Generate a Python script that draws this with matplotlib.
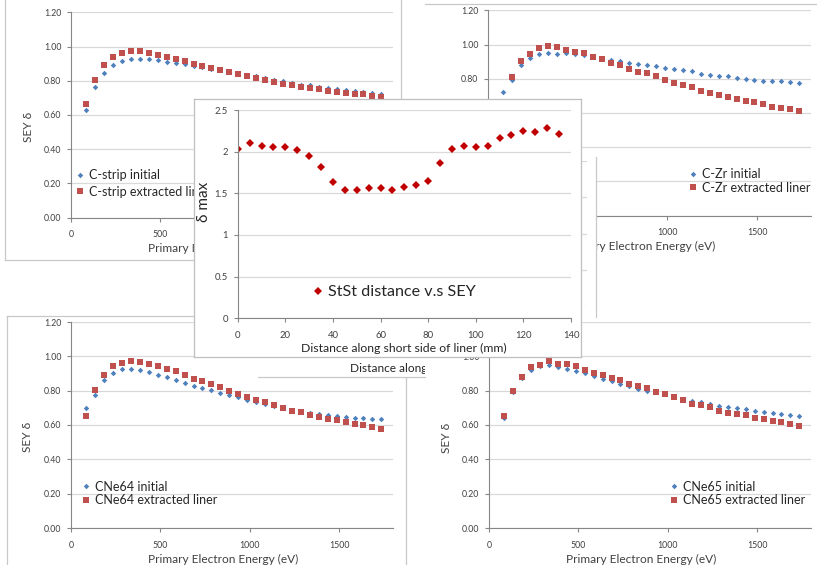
import matplotlib
matplotlib.use("Agg")
import matplotlib.pyplot as plt

# ---- data ----
energy = [85, 135, 185, 235, 285, 335, 385, 435, 485, 535, 585, 635, 685, 735,
          785, 835, 885, 935, 985, 1035, 1085, 1135, 1185, 1235, 1285, 1335,
          1385, 1435, 1485, 1535, 1585, 1635, 1685, 1735]

cstrip_initial = [0.627, 0.765, 0.847, 0.894, 0.914, 0.925, 0.927, 0.925, 0.920, 0.910,
                  0.906, 0.896, 0.888, 0.880, 0.869, 0.863, 0.853, 0.841, 0.831, 0.825,
                  0.814, 0.804, 0.796, 0.788, 0.778, 0.773, 0.765, 0.757, 0.751, 0.745,
                  0.739, 0.733, 0.727, 0.722]
cstrip_extracted = [0.665, 0.806, 0.890, 0.939, 0.963, 0.971, 0.971, 0.961, 0.951, 0.939,
                    0.927, 0.914, 0.900, 0.888, 0.876, 0.865, 0.853, 0.839, 0.829, 0.818,
                    0.806, 0.794, 0.784, 0.775, 0.765, 0.757, 0.749, 0.743, 0.737, 0.731,
                    0.725, 0.720, 0.712, 0.706]

czr_initial = [0.724, 0.790, 0.882, 0.920, 0.944, 0.948, 0.944, 0.953, 0.944, 0.936,
               0.928, 0.918, 0.911, 0.903, 0.891, 0.889, 0.883, 0.876, 0.864, 0.856,
               0.849, 0.843, 0.829, 0.821, 0.817, 0.814, 0.806, 0.800, 0.794, 0.786,
               0.786, 0.786, 0.779, 0.777]
czr_extracted = [0.660, 0.810, 0.903, 0.944, 0.977, 0.992, 0.986, 0.967, 0.955, 0.948,
                 0.930, 0.915, 0.895, 0.880, 0.858, 0.839, 0.831, 0.814, 0.792, 0.775,
                 0.765, 0.750, 0.730, 0.715, 0.707, 0.693, 0.680, 0.668, 0.664, 0.652,
                 0.635, 0.629, 0.623, 0.614]

cne64_initial = [0.700, 0.776, 0.860, 0.905, 0.925, 0.927, 0.922, 0.908, 0.892, 0.877,
                 0.861, 0.845, 0.830, 0.815, 0.802, 0.788, 0.776, 0.762, 0.748, 0.735,
                 0.722, 0.712, 0.700, 0.690, 0.680, 0.672, 0.664, 0.657, 0.651, 0.645,
                 0.641, 0.638, 0.636, 0.633]
cne64_extracted = [0.651, 0.802, 0.890, 0.941, 0.961, 0.971, 0.966, 0.957, 0.943, 0.925,
                   0.912, 0.891, 0.870, 0.855, 0.840, 0.820, 0.799, 0.783, 0.765, 0.746,
                   0.733, 0.715, 0.699, 0.684, 0.673, 0.658, 0.648, 0.635, 0.627, 0.616,
                   0.608, 0.598, 0.588, 0.578]

cne65_initial = [0.643, 0.793, 0.874, 0.922, 0.942, 0.947, 0.940, 0.929, 0.916, 0.901,
                 0.885, 0.870, 0.854, 0.839, 0.825, 0.812, 0.800, 0.790, 0.779, 0.765,
                 0.753, 0.742, 0.732, 0.722, 0.713, 0.705, 0.699, 0.691, 0.684, 0.677,
                 0.671, 0.666, 0.658, 0.652]
cne65_extracted = [0.653, 0.797, 0.880, 0.938, 0.952, 0.970, 0.958, 0.957, 0.943, 0.922,
                   0.905, 0.889, 0.874, 0.860, 0.839, 0.826, 0.813, 0.793, 0.779, 0.765,
                   0.746, 0.725, 0.715, 0.702, 0.684, 0.668, 0.662, 0.658, 0.639, 0.633,
                   0.626, 0.616, 0.605, 0.596]

distance = [0, 5, 10, 15, 20, 25, 30, 35, 40, 45, 50, 55, 60, 65, 70, 75, 80, 85,
            90, 95, 100, 105, 110, 115, 120, 125, 130, 135]
delta_max = [2.03, 2.10, 2.07, 2.05, 2.05, 2.02, 1.95, 1.81, 1.63, 1.54, 1.54, 1.56,
             1.56, 1.54, 1.57, 1.60, 1.65, 1.86, 2.03, 2.07, 2.05, 2.07, 2.16, 2.20,
             2.25, 2.24, 2.28, 2.21]

sey_ticks = [0.0, 0.2, 0.4, 0.6, 0.8, 1.0, 1.2]
energy_ticks = [0, 500, 1000, 1500]
dist_ticks = [0, 20, 40, 60, 80, 100, 120, 140]
dmax_ticks = [0, 0.5, 1, 1.5, 2, 2.5]
dmax_labels = ["0", "0.5", "1", "1.5", "2", "2.5"]

BLUE = "#4F81BD"
RED = "#C0504D"
DARKRED = "#C00000"
GRID = "#D9D9D9"
AXIS = "#868686"
TXT = "#404040"
FRAME = "#C8C8C8"

W, H = 817, 565
plt.rcParams["font.family"] = ["Lato", "DejaVu Sans"]

fig = plt.figure(figsize=(W / 100, H / 100), dpi=100)


def px_box(l, t, r, b):
    return [l / W, 1 - b / H, (r - l) / W, (b - t) / H]


def fpt(x, y):
    return x / W, 1 - y / H


def add_frame(l, t, r, b, z, sides, edge=FRAME):
    fr = fig.add_axes(px_box(l, t, r, b), zorder=z)
    fr.set_xticks([])
    fr.set_yticks([])
    fr.set_facecolor("white")
    for s, sp in fr.spines.items():
        sp.set_visible(s in sides)
        sp.set_color(edge)
        sp.set_linewidth(0.9)
    return fr


def style_axes(ax, labelsize, xpad):
    ax.set_facecolor("none")
    ax.grid(axis="y", color=GRID, lw=0.9)
    ax.set_axisbelow(True)
    for s in ("top", "right"):
        ax.spines[s].set_visible(False)
    for s in ("left", "bottom"):
        ax.spines[s].set_color(AXIS)
        ax.spines[s].set_linewidth(0.8)
    ax.tick_params(length=3, width=0.8, color=AXIS, labelsize=labelsize,
                   labelcolor=TXT)
    ax.tick_params(axis="x", pad=xpad)
    ax.tick_params(axis="y", pad=4)


def sey_chart(frame, sides, plot, z, init, extr, names, leg_xy, leg_space, ylab_xy):
    add_frame(*frame, z, sides)
    ax = fig.add_axes(px_box(*plot), zorder=z + 0.5)
    ax.plot(energy, init, "D", color=BLUE, ms=2.8, mew=0, label=names[0], clip_on=False)
    ax.plot(energy, extr, "s", color=RED, ms=4.3, mew=0, label=names[1], clip_on=False)
    ax.set_xlim(0, 1800)
    ax.set_ylim(0, 1.2)
    ax.set_xticks(energy_ticks)
    ax.set_yticks(sey_ticks)
    ax.set_yticklabels([f"{v:.2f}" for v in sey_ticks])
    style_axes(ax, 6.3, 6)
    cx = (plot[0] + plot[2]) / 2 - 9
    ax.text(*fpt(cx, plot[3] + 31), "Primary Electron Energy (eV)",
            transform=fig.transFigure, ha="center", va="center", fontsize=8.6, color=TXT)
    ax.text(*fpt(*ylab_xy), "SEY δ", transform=fig.transFigure, rotation=90,
            ha="center", va="center", fontsize=8.6, color=TXT)
    ax.legend(loc="center left", bbox_to_anchor=fpt(*leg_xy),
              bbox_transform=fig.transFigure, frameon=False, fontsize=9,
              handlelength=0.7, handletextpad=0.35, labelspacing=leg_space,
              borderpad=0, borderaxespad=0, labelcolor="#262626")
    return ax


# C-strip (top left)
sey_chart((5, -2, 401, 260), ("left", "right", "bottom"), (71, 12.3, 393, 217.7), 1,
          cstrip_initial, cstrip_extracted,
          ["C-strip initial", "C-strip extracted liner"], (76, 183.5), 0.35, (29, 127))

# C-Zr (top right)
sey_chart((425, 4, 830, 262), ("top",), (488, 10.3, 811, 215.7), 2,
          czr_initial, czr_extracted,
          ["C-Zr initial", "C-Zr extracted liner"], (689, 181), 0.12, (447, 125))

# CNe64 (bottom left)
sey_chart((7, 316, 406, 575), ("left", "top"), (71, 322, 393, 528), 3,
          cne64_initial, cne64_extracted,
          ["CNe64 initial", "CNe64 extracted liner"], (82, 493.5), 0.12, (28, 437))

# CNe65 (bottom right)
sey_chart((406, 316, 830, 575), ("left",), (489, 322, 811, 528), 4,
          cne65_initial, cne65_extracted,
          ["CNe65 initial", "CNe65 extracted liner"], (670, 493.5), 0.12, (447, 438))

# partly hidden chart behind the centre one
add_frame(300, 157, 596, 317, 5, ("right",))
ghost = fig.add_axes(px_box(300, 161, 587, 306), zorder=5.5)
ghost.set_facecolor("none")
ghost.set_ylim(0, 4)
ghost.set_yticks([0, 1, 2, 3, 4])
ghost.set_xticks([])
ghost.grid(axis="y", color=GRID, lw=0.9)
ghost.tick_params(length=0, labelleft=False)
for sp in ghost.spines.values():
    sp.set_visible(False)

# copy of the distance chart, only its x label shows
g2 = add_frame(258, 200, 425, 377, 6, ("bottom",))
g2.text(*fpt(350, 368), "Distance along short side of liner (mm)",
        transform=fig.transFigure, ha="left", va="center", fontsize=8.6,
        color="#262626", clip_on=True)

# centre chart: delta max vs distance
add_frame(194, 99, 581, 357, 7, ("left", "right", "top", "bottom"), edge="#BFBFBF")
ax = fig.add_axes(px_box(237.7, 110, 571, 318.3), zorder=7.5)
ax.plot(distance, delta_max, "D", color=DARKRED, ms=3.6, mew=0,
        label="StSt distance v.s SEY")
ax.set_xlim(0, 140)
ax.set_ylim(0, 2.5)
ax.set_xticks(dist_ticks)
ax.set_yticks(dmax_ticks)
ax.set_yticklabels(dmax_labels)
style_axes(ax, 6.8, 6)
ax.text(*fpt(404, 348), "Distance along short side of liner (mm)",
        transform=fig.transFigure, ha="center", va="center", fontsize=8.8, color="#262626")
ax.text(*fpt(204, 202), "δ max", transform=fig.transFigure, rotation=90,
        ha="center", va="center", fontsize=11, color="#262626")
ax.legend(loc="center left", bbox_to_anchor=fpt(313, 292),
          bbox_transform=fig.transFigure, frameon=False, fontsize=11.6,
          handlelength=0.6, handletextpad=0.35, borderpad=0, borderaxespad=0,
          labelcolor="#262626")

fig.savefig("out.png", dpi=100, facecolor="white")
